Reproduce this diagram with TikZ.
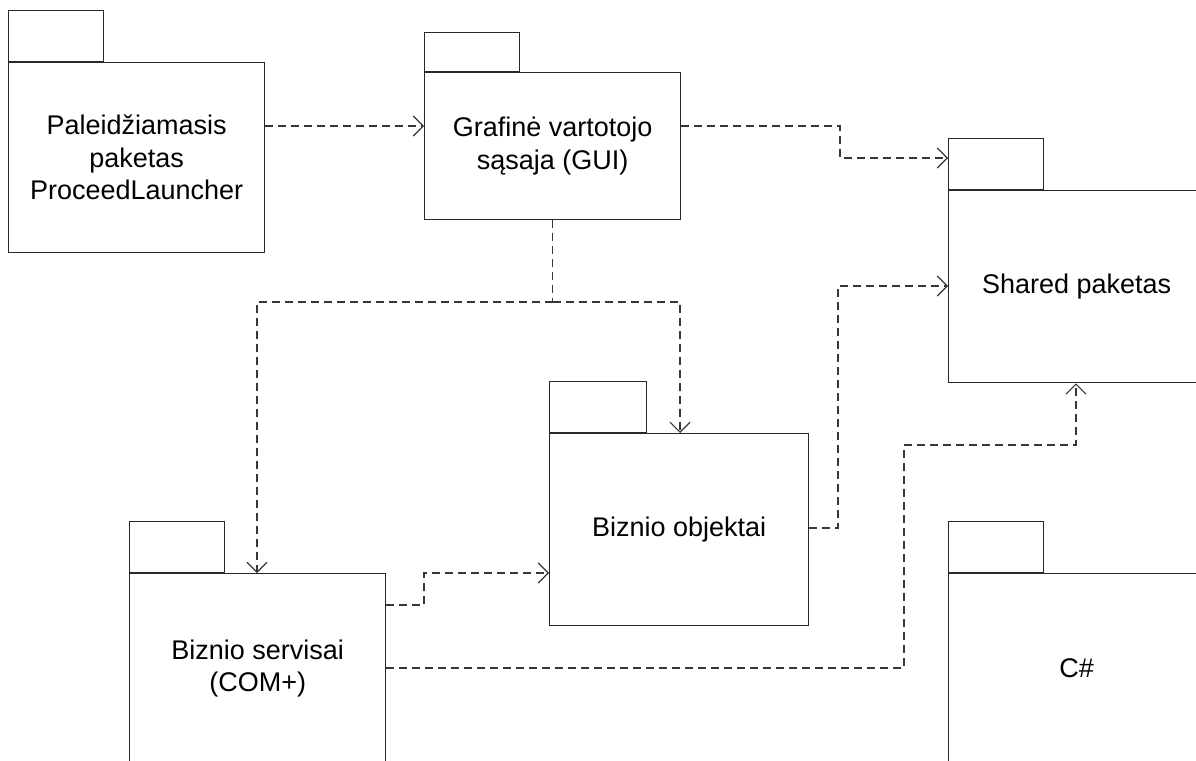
\documentclass[tikz,border=0pt]{standalone}
\usepackage{fontspec}
\setmainfont{Liberation Sans}
\usetikzlibrary{arrows.meta}
\definecolor{edgegray}{RGB}{40,40,40}
\definecolor{dashgray}{RGB}{55,55,55}
\begin{document}
\begin{tikzpicture}[x=1pt,y=-1pt,
  pkgbody/.style={draw=edgegray, line width=1.3pt, fill=white, anchor=north west,
    minimum width=256pt, minimum height=190pt, align=center, inner sep=0pt,
    font=\fontsize{27}{32.5}\selectfont},
  pkgtab/.style={draw=edgegray, line width=1.3pt, fill=white, anchor=south west,
    minimum width=95pt, minimum height=51pt, inner sep=0pt},
  dep/.style={draw=dashgray, line width=1.2pt, dash pattern=on 8pt off 5pt,
    -{Straight Barb[length=10pt,width=20pt,line width=1.1pt]}},
  depline/.style={draw=dashgray, line width=1.2pt, dash pattern=on 8pt off 5pt}
]
\useasboundingbox (0,0) rectangle (1196,760);
\clip (0,0) rectangle (1196,760);

% packages
\node[pkgbody] (launch) at (8,62) {Paleidžiamasis\\paketas\\ProceedLauncher};
\node[pkgtab] (launchtab) at (launch.north west) {};

\node[pkgbody, minimum height=147pt] (gui) at (424,72) {Grafinė vartotojo\\sąsaja (GUI)};
\node[pkgtab, minimum height=39pt] (guitab) at (gui.north west) {};

\node[pkgbody, minimum width=256pt, minimum height=192pt] (shared) at (948,190) {Shared paketas};
\node[pkgtab] (sharedtab) at (shared.north west) {};

\node[pkgbody, minimum width=259pt, minimum height=192pt] (bobj) at (549,433) {Biznio objektai};
\node[pkgtab, minimum width=97pt] (bobjtab) at (bobj.north west) {};

\node[pkgbody] (bserv) at (129,573) {Biznio servisai\\(COM+)};
\node[pkgtab] (bservtab) at (bserv.north west) {};

\node[pkgbody] (csharp) at (948,573) {C\#};
\node[pkgtab] (csharptab) at (csharp.north west) {};

% dependencies
\draw[dep] (launch.east |- 0,126) -- (gui.west |- 0,126);
\draw[dep] (gui.east |- 0,126) -- (840,126) -- (840,158) -- (sharedtab.west |- 0,158);
\draw[depline] (gui.south) -- (gui.south |- 0,302) coordinate (split);
\draw[dep] (split) -| (bserv.north -| 257,0);
\draw[dep] (split) -| (bobj.north -| 680,0);
\draw[dep] (bobj.east |- 0,528) -- (838,528) -- (838,286) -- (shared.west |- 0,286);
\draw[dep] (bserv.east |- 0,605) -- (424,605) -- (424,573) -- (bobj.west |- 0,573);
\draw[dep] (bserv.east |- 0,668) -- (904,668) -- (904,445) -- (1076,445) -- (shared.south -| 1076,0);
\end{tikzpicture}
\end{document}
